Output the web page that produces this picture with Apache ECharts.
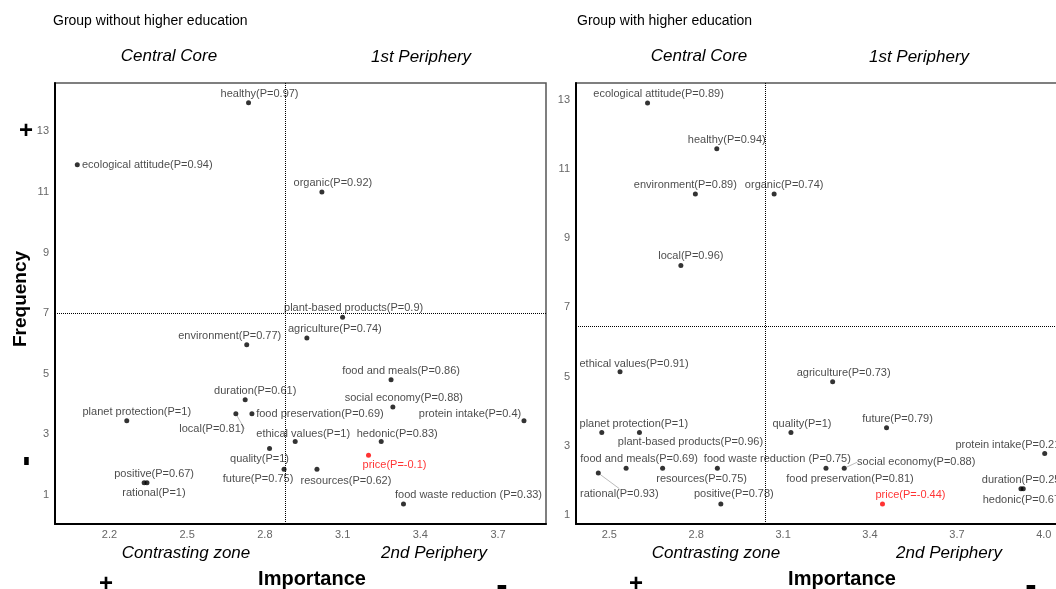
<!DOCTYPE html>
<html>
<head>
<meta charset="utf-8">
<script src="https://cdn.jsdelivr.net/npm/echarts@6/dist/echarts.min.js"></script>
<style>
html,body{margin:0;padding:0;background:#fff;}
#chart{width:1056px;height:589px;}
</style>
</head>
<body>
<div id="chart"></div>
<script>
// ---------------- DATA ----------------
const leftNames = ["healthy","ecological attitude","organic","plant-based products","agriculture","environment","food and meals","social economy","protein intake","duration","local","food preservation","planet protection","ethical values","hedonic","quality","price","future","resources","food waste reduction ","positive","rational"];
const leftImportance = [2.737,2.076,3.02,3.10,2.962,2.73,3.287,3.294,3.80,2.724,2.688,2.750,2.267,2.917,3.249,2.818,3.20,2.874,3.001,3.335,2.334,2.345];
const leftFrequency = [13.95,11.90,11.0,6.87,6.18,5.96,4.80,3.90,3.45,4.14,3.68,3.68,3.45,2.76,2.76,2.53,2.31,1.85,1.85,0.70,1.40,1.40];
const leftP = ["0.97","0.94","0.92","0.9","0.74","0.77","0.86","0.88","0.4","0.61","0.81","0.69","1","1","0.83","1","-0.1","0.75","0.62","0.33","0.67","1"];

const rightNames = ["ecological attitude","healthy","environment","organic","local","ethical values","agriculture","planet protection","plant-based products","quality","future","protein intake","food and meals","rational","resources","food waste reduction ","social economy","food preservation","positive","price","duration","hedonic"];
const rightImportance = [2.632,2.871,2.797,3.069,2.747,2.537,3.271,2.474,2.604,3.127,3.457,4.003,2.558,2.462,2.684,2.873,3.311,3.248,2.885,3.443,3.921,3.929];
const rightFrequency = [12.9,11.58,10.27,10.27,8.21,5.14,4.85,3.38,3.38,3.38,3.52,2.78,2.35,2.21,2.35,2.35,2.35,2.35,1.32,1.32,1.76,1.76];
const rightP = ["0.89","0.94","0.89","0.74","0.96","0.91","0.73","1","0.96","1","0.79","0.21","0.69","0.93","0.75","0.75","0.88","0.81","0.78","-0.44","0.25","0.67"];

const leftXTicks = [2.2,2.5,2.8,3.1,3.4,3.7];
const rightXTicks = [2.5,2.8,3.1,3.4,3.7,4.0];
const leftYTicks = [1,3,5,7,9,11,13];
const rightYTicks = [1,3,5,7,9,11,13];

const leftDividers = {importance: 2.88, frequency: 7};
const rightDividers = {importance: 3.04, frequency: 6.46};

// ---------------- LAYOUT (label offsets, px) ----------------
const leftLabelOffsets = [[11,-9],[70,0],[11,-9],[11,-9],[28,-9],[-17,-9],[10,-9],[11,-9],[-54,-7],[10,-9],[-24,15],[68,0],[10,-9],[8,-8],[16,-8],[-10,10],[26,10],[-26,10],[29,12],[65,-9],[10,-9],[7,10]];
const leftLeaders = [10];
const rightLabelOffsets = [[11,-9],[10,-9],[-10,-9],[10,-9],[10,-9],[14,-8],[11,-9],[32,-9],[51,9],[11,-9],[11,-9],[-35,-8],[13,-9],[21,21],[39,11],[60,-9],[72,-6],[24,11],[13,-10],[28,-9],[2,-9],[0,11]];
const rightLeaders = [13,16];

const FONT = "'Liberation Sans', Arial, sans-serif";
const RED = '#ff0000';

function tickFormatter(ticks, digits) {
  return function (v) {
    for (const t of ticks) {
      if (Math.abs(v - t) < 1e-6) return digits ? t.toFixed(digits) : String(t);
    }
    return '';
  };
}

function buildSeries(names, xs, ys, ps, offsets, leaders, idx, div) {
  return {
    type: 'scatter',
    xAxisIndex: idx, yAxisIndex: idx,
    symbolSize: 5,
    itemStyle: {color: '#000'},
    label: {
      show: true, position: 'inside', align: 'center', verticalAlign: 'middle',
      fontFamily: FONT, fontSize: 11, color: '#1a1a1a',
      formatter: p => p.name
    },
    labelLine: {show: false, lineStyle: {color: '#aaa', width: 0.8}},
    labelLayout: function (params) {
      const o = offsets[params.dataIndex];
      return {dx: o[0], dy: o[1]};
    },
    data: names.map((n, i) => {
      const item = {name: n + '(P=' + ps[i] + ')', value: [xs[i], ys[i]]};
      if (parseFloat(ps[i]) < 0) {
        item.itemStyle = {color: RED};
        item.label = {color: RED};
      }
      if (leaders.indexOf(i) >= 0) {
        item.labelLine = {show: true, lineStyle: {color: '#aaa', width: 0.8}};
      }
      return item;
    }),
    markLine: {
      silent: true, symbol: 'none', animation: false,
      label: {show: false},
      lineStyle: {type: 'dotted', color: '#000', width: 1},
      data: [{xAxis: div.importance}, {yAxis: div.frequency}]
    },
    z: 3
  };
}

function xAxisCfg(idx, min, max, ticks) {
  return {
    type: 'value', gridIndex: idx, min: min, max: max, interval: 0.005,
    axisLine: {show: true, onZero: false, lineStyle: {color: '#000', width: 2}},
    axisTick: {show: false}, splitLine: {show: false},
    axisLabel: {interval: 0, color: '#666', fontSize: 11, fontFamily: FONT, margin: 5,
      showMinLabel: true, showMaxLabel: true, formatter: tickFormatter(ticks, 1)}
  };
}
function yAxisCfg(idx, min, max, ticks) {
  return {
    type: 'value', gridIndex: idx, min: min, max: max, interval: 0.02,
    axisLine: {show: true, onZero: false, lineStyle: {color: '#000', width: 2}},
    axisTick: {show: false}, splitLine: {show: false},
    axisLabel: {interval: 0, color: '#666', fontSize: 11, fontFamily: FONT, margin: 6,
      showMinLabel: true, showMaxLabel: true, formatter: tickFormatter(ticks, 0)}
  };
}

function txt(text, x, y, size, opts) {
  opts = opts || {};
  const style = {
    text: text, fill: '#000', fontFamily: FONT, fontSize: size,
    fontWeight: opts.bold ? 'bold' : 'normal',
    fontStyle: opts.italic ? 'italic' : 'normal',
    align: opts.align || 'center', verticalAlign: 'middle'
  };
  if (opts.thick) { style.stroke = '#000'; style.lineWidth = opts.thick; }
  return {type: 'text', x: x, y: y, rotation: opts.rotation || 0, z: 10, style: style};
}

const chart = echarts.init(document.getElementById('chart'), null, {renderer: 'canvas'});
chart.setOption({
  animation: false,
  backgroundColor: '#fff',
  grid: [
    {left: 55, top: 83, width: 491, height: 441, show: true, borderColor: '#555', borderWidth: 1.5,
     backgroundColor: 'transparent', containLabel: false, outerBoundsMode: 'none'},
    {left: 576, top: 83, width: 491, height: 441, show: true, borderColor: '#555', borderWidth: 1.5,
     backgroundColor: 'transparent', containLabel: false, outerBoundsMode: 'none'}
  ],
  xAxis: [
    xAxisCfg(0, 1.99, 3.885, leftXTicks),
    xAxisCfg(1, 2.385, 4.08, rightXTicks)
  ],
  yAxis: [
    yAxisCfg(0, 0.04, 14.6, leftYTicks),
    yAxisCfg(1, 0.74, 13.48, rightYTicks)
  ],
  series: [
    buildSeries(leftNames, leftImportance, leftFrequency, leftP, leftLabelOffsets, leftLeaders, 0, leftDividers),
    buildSeries(rightNames, rightImportance, rightFrequency, rightP, rightLabelOffsets, rightLeaders, 1, rightDividers)
  ],
  graphic: [
    txt('Group without higher education', 53, 21, 14, {align: 'left'}),
    txt('Group with higher education', 577, 21, 14, {align: 'left'}),
    txt('Central Core', 169, 56, 17, {italic: true}),
    txt('1st Periphery', 421, 57, 17, {italic: true}),
    txt('Central Core', 699, 56, 17, {italic: true}),
    txt('1st Periphery', 919, 57, 17, {italic: true}),
    txt('Contrasting zone', 186, 553, 17, {italic: true}),
    txt('2nd Periphery', 434, 553, 17, {italic: true}),
    txt('Contrasting zone', 716, 553, 17, {italic: true}),
    txt('2nd Periphery', 949, 553, 17, {italic: true}),
    txt('Importance', 312, 579, 20, {bold: true}),
    txt('Importance', 842, 579, 20, {bold: true}),
    txt('Frequency', 21, 299, 19, {bold: true, rotation: Math.PI / 2}),
    txt('+', 26, 131, 24, {bold: true}),
    txt('-', 26, 461, 26, {bold: true, rotation: Math.PI / 2, thick: 1.5}),
    txt('+', 106, 584, 24, {bold: true}),
    txt('-', 502, 587, 28, {bold: true, thick: 1.5}),
    txt('+', 636, 584, 24, {bold: true}),
    txt('-', 1031, 587, 28, {bold: true, thick: 1.5})
  ]
});
</script>
</body>
</html>
